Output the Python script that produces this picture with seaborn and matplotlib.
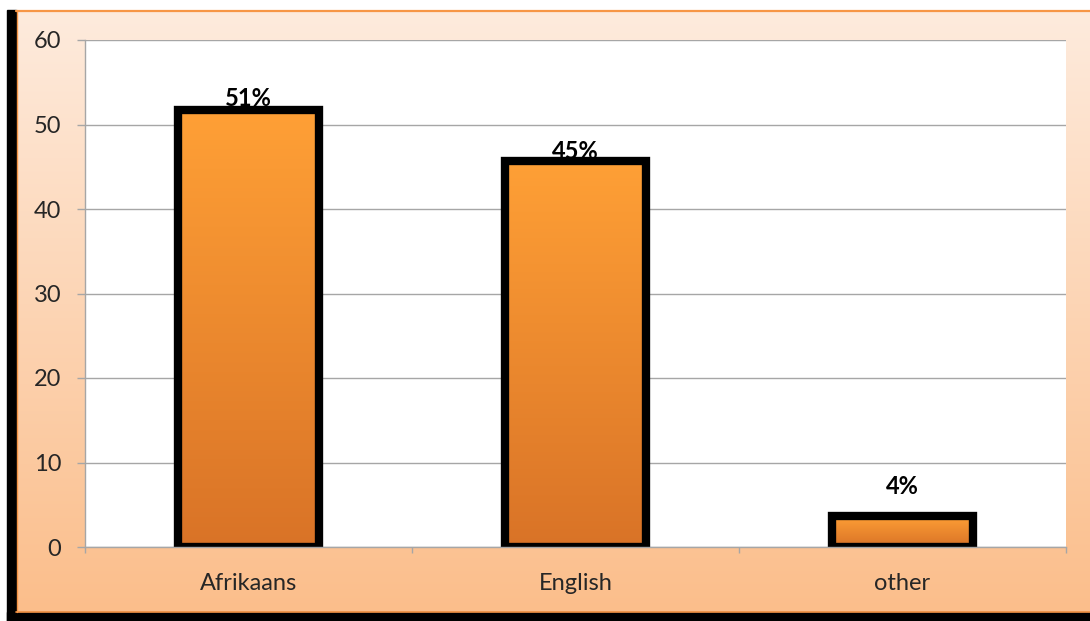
import numpy as np
import matplotlib
matplotlib.use("Agg")
import matplotlib.pyplot as plt
from matplotlib.patches import Rectangle
import seaborn as sns

# data
languages = ["Afrikaans", "English", "other"]
shares = [51.7, 45.7, 3.7]
share_labels = ["51%", "45%", "4%"]
label_pads = [3.0, 1.5, 16.0]   # points above bar top (Excel placed "other" higher)
y_ticks = [0, 10, 20, 30, 40, 50, 60]


def vgrad(top, bottom, n=256):
    top = np.array(matplotlib.colors.to_rgb(top))
    bottom = np.array(matplotlib.colors.to_rgb(bottom))
    t = np.linspace(0, 1, n)[:, None]
    return (top * (1 - t) + bottom * t)[:, None, :]


sns.set_theme(style="white")
plt.rcParams["font.family"] = ["Lato", "DejaVu Sans"]

W, H = 1090, 621
fig = plt.figure(figsize=(W / 100, H / 100), dpi=100)
fig.patch.set_facecolor("white")

# chart frame: peach gradient box with black shadow on left / bottom
bg = fig.add_axes([0, 0, 1, 1], zorder=0)
bg.set_axis_off()
bg.set_xlim(0, W)
bg.set_ylim(0, H)
bg.imshow(vgrad("#FEEBDD", "#FBBE8B"), extent=(15, W, 9, 611),
          aspect="auto", origin="upper")
bg.add_patch(Rectangle((7, 0), 9, 611, color="black"))
bg.add_patch(Rectangle((7, 0), W, 9, color="black"))
bg.plot([16, W], [610.5, 610.5], color="#F79646", lw=1.6)
bg.plot([16, W], [9.5, 9.5], color="#F79646", lw=1.2)
bg.plot([16.5, 16.5], [9, 611], color="#F79646", lw=1.0)

# plot area
ax = fig.add_axes([85 / W, 74 / H, 981 / W, 507 / H], zorder=1)
ax.set_facecolor("white")

sns.barplot(x=languages, y=shares, color="#F7962F", edgecolor="black",
            linewidth=6, width=0.43, saturation=1, errorbar=None, ax=ax)

bar_grad = vgrad("#FFA036", "#D97327")
for p in ax.patches:
    x0, y0, w, h = p.get_x(), p.get_y(), p.get_width(), p.get_height()
    im = ax.imshow(bar_grad, extent=(x0, x0 + w, y0, y0 + h),
                   aspect="auto", origin="upper", zorder=2)
    im.set_clip_path(p)
    p.set_facecolor("none")
    p.set_zorder(3)

for p, lab, pad in zip(ax.patches, share_labels, label_pads):
    ax.annotate(lab, (p.get_x() + p.get_width() / 2, p.get_height()),
                xytext=(0, pad), textcoords="offset points",
                ha="center", va="baseline", fontsize=17, fontweight="bold",
                color="black", zorder=5)

ax.set_xlim(-0.5, len(languages) - 0.5)
ax.set_ylim(0, 60)
ax.set_yticks(y_ticks)
ax.set_xlabel("")
ax.set_ylabel("")
ax.yaxis.grid(True, color="#A6A6A6", lw=1)
ax.set_axisbelow(True)

for side in ["top", "right"]:
    ax.spines[side].set_visible(False)
for side in ["left", "bottom"]:
    ax.spines[side].set_color("#A6A6A6")
    ax.spines[side].set_linewidth(1)
    ax.spines[side].set_zorder(4)

ax.tick_params(axis="y", length=6, width=1, color="#A6A6A6",
               labelsize=17, labelcolor="#262626", pad=11, left=True)
ax.tick_params(axis="x", which="major", length=0, labelsize=17,
               labelcolor="#262626", pad=18.5)
ax.set_xticks(np.arange(-0.5, len(languages)), minor=True)
ax.tick_params(axis="x", which="minor", length=4.5, width=1,
               color="#A6A6A6", direction="out", bottom=True)

fig.savefig("out.png", dpi=100)
